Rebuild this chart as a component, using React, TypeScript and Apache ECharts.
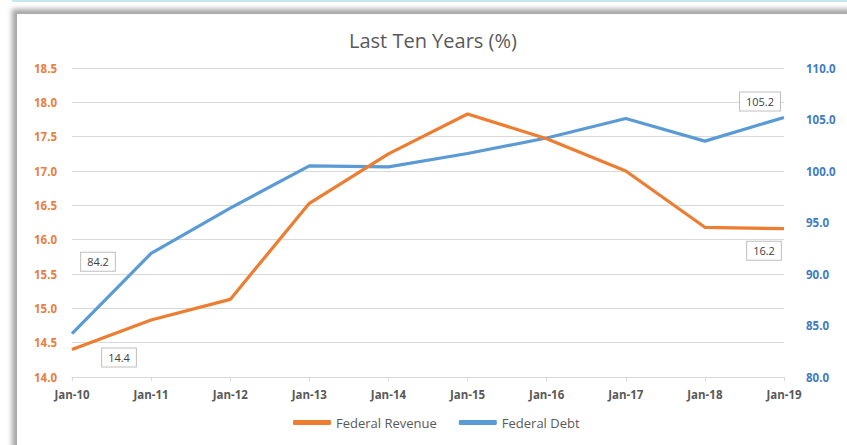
import React, { useEffect, useRef } from "react";
import * as echarts from "echarts";

const categories = ["Jan-10", "Jan-11", "Jan-12", "Jan-13", "Jan-14", "Jan-15", "Jan-16", "Jan-17", "Jan-18", "Jan-19"];
const federalRevenue = [14.4, 14.83, 15.13, 16.53, 17.25, 17.83, 17.47, 17.0, 16.18, 16.16];
const federalDebt = [84.2, 92.0, 96.4, 100.5, 100.4, 101.7, 103.2, 105.1, 102.9, 105.2];
const revenueLabelled = [0, 9];
const debtLabelled = [0, 9];

const ORANGE = "#ED7D31";
const BLUE = "#5B9BD5";
const FONT = "'Open Sans', 'Noto Sans', sans-serif";

const boxLabel = (offset: number[], text: string) => ({
  show: true,
  position: "inside",
  offset,
  formatter: text,
  color: "#404040",
  fontSize: 11,
  fontFamily: FONT,
  backgroundColor: "#ffffff",
  borderColor: "#bfbfbf",
  borderWidth: 1,
  padding: [4, 6, 3, 6],
});

export default function App() {
  const ref = useRef<HTMLDivElement>(null);

  useEffect(() => {
    if (!ref.current) return;
    const chart = echarts.init(ref.current, null, { renderer: "svg" });

    const revOffsets: Record<number, number[]> = { 0: [47, 8], 9: [-20, 22] };
    const debtOffsets: Record<number, number[]> = { 0: [26, -72], 9: [-24, -16] };

    const revData = federalRevenue.map((v, i) =>
      revenueLabelled.includes(i)
        ? { value: v, label: boxLabel(revOffsets[i], v.toFixed(1)) }
        : v
    );
    const debtData = federalDebt.map((v, i) =>
      debtLabelled.includes(i)
        ? { value: v, label: boxLabel(debtOffsets[i], v.toFixed(1)) }
        : v
    );

    const axisText = { fontSize: 11.5, fontWeight: "bold", fontFamily: FONT };

    chart.setOption({
      animation: false,
      backgroundColor: "transparent",
      title: {
        text: "Last Ten Years (%)",
        left: 344,
        top: 25,
        textStyle: { color: "#595959", fontSize: 20, fontWeight: "normal", fontFamily: FONT },
      },
      grid: { left: 72, right: 63, top: 68, bottom: 68 },
      legend: {
        bottom: 11,
        left: 288,
        itemWidth: 38,
        itemHeight: 5,
        itemGap: 22,
        icon: "roundRect",
        textStyle: { color: "#595959", fontSize: 13, fontFamily: FONT },
        data: ["Federal Revenue", "Federal Debt"],
      },
      xAxis: {
        type: "category",
        data: categories,
        boundaryGap: false,
        axisLine: { lineStyle: { color: "#d9d9d9" } },
        axisTick: { show: true, length: 4, lineStyle: { color: "#d9d9d9" } },
        axisLabel: { color: "#595959", margin: 11, ...axisText },
      },
      yAxis: [
        {
          type: "value",
          min: 14,
          max: 18.5,
          interval: 0.5,
          axisLine: { show: false },
          axisTick: { show: false },
          splitLine: { lineStyle: { color: "#d9d9d9" } },
          axisLabel: {
            color: "#E8803E",
            margin: 15,
            ...axisText,
            formatter: (v: number) => v.toFixed(1),
          },
        },
        {
          type: "value",
          min: 80,
          max: 110,
          interval: 5,
          axisLine: { show: false },
          axisTick: { show: false },
          splitLine: { show: false },
          axisLabel: {
            color: "#3F7CC0",
            margin: 22,
            ...axisText,
            formatter: (v: number) => v.toFixed(1),
          },
        },
      ],
      series: [
        {
          name: "Federal Revenue",
          type: "line",
          yAxisIndex: 0,
          data: revData,
          showSymbol: true,
          symbol: "circle",
          symbolSize: 0.1,
          lineStyle: { color: ORANGE, width: 3.2 },
          itemStyle: { color: ORANGE },
          z: 3,
        },
        {
          name: "Federal Debt",
          type: "line",
          yAxisIndex: 1,
          data: debtData,
          showSymbol: true,
          symbol: "circle",
          symbolSize: 0.1,
          lineStyle: { color: BLUE, width: 3.2 },
          itemStyle: { color: BLUE },
          z: 2,
        },
      ],
    });

    return () => chart.dispose();
  }, []);

  return (
    <div
      style={{
        position: "fixed",
        left: 0,
        top: 0,
        width: 847,
        height: 445,
        background: "#ffffff",
        overflow: "hidden",
      }}
    >
      <div style={{ position: "absolute", left: 12, top: 0, right: 0, height: 2, background: "#c4e8ee" }} />
      <div
        style={{
          position: "absolute",
          left: 17,
          top: 14,
          width: 900,
          height: 500,
          background: "#ffffff",
          boxShadow: "-2px -2px 5px 3px rgba(0,0,0,0.35)",
        }}
      />
      <div ref={ref} style={{ position: "absolute", left: 0, top: 0, width: 847, height: 445 }} />
    </div>
  );
}
